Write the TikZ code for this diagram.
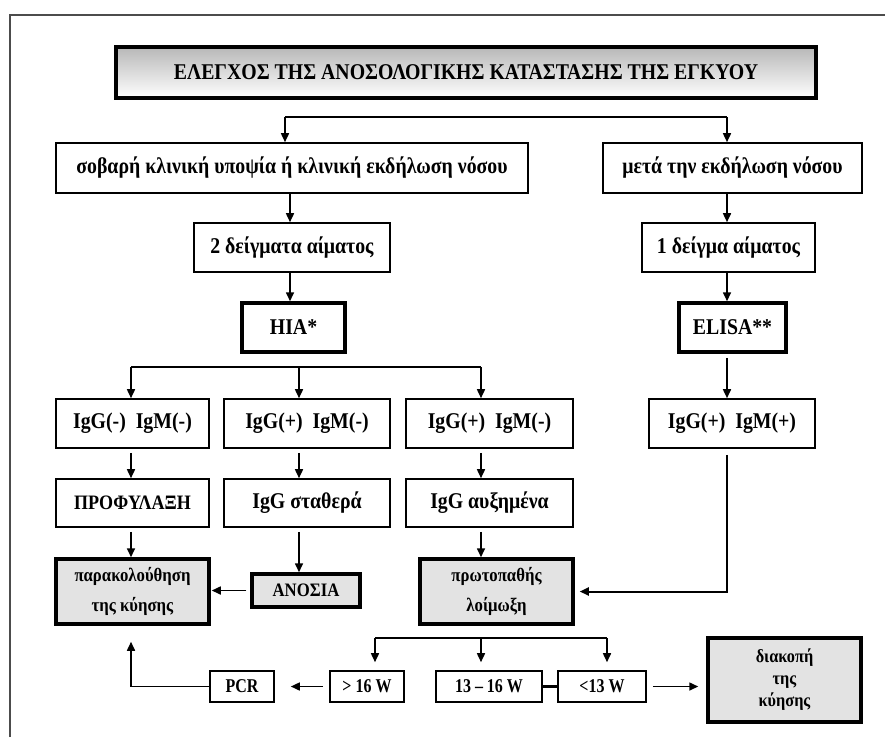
\documentclass[tikz,border=0pt]{standalone}
\usepackage{fontspec}
\setmainfont{Liberation Serif}
\newfontfamily\nf[FakeStretch=0.88]{Liberation Serif}
\newfontfamily\nfb[FakeStretch=0.82]{Liberation Serif}
\usetikzlibrary{arrows.meta}
\begin{document}
\begin{tikzpicture}[x=1pt,y=-1pt,
  box/.style={draw, line width=1.6pt, inner sep=0pt, align=center, font=\nf\bfseries\fontsize{22.5}{26}\selectfont},
  thickbox/.style={box, line width=3.5pt},
  graybox/.style={thickbox, fill=black!11},
  fT/.style={font=\nf\bfseries\fontsize{22.5}{26}\selectfont},
  fA/.style={font=\nf\bfseries\fontsize{20.5}{24}\selectfont},
  fB/.style={font=\nf\bfseries\fontsize{19}{30}\selectfont},
  fC/.style={font=\nfb\bfseries\fontsize{19.5}{22}\selectfont},
  arr/.style={line width=1.6pt, -{Triangle[length=9pt,width=8pt]}},
  ln/.style={line width=1.6pt},
  bar/.style={line width=2.6pt},
]
\useasboundingbox (0,0) rectangle (885,737);
% outer frame
\draw[line width=2pt, black!70] (10,737) -- (10,15) -- (885,15);

% column coordinates
\coordinate (cL) at (290,0);
\coordinate (cR) at (727,0);
\coordinate (k1) at (131,0);
\coordinate (k2) at (299,0);
\coordinate (k3) at (481,0);

% nodes
\node[thickbox, fT, line width=4pt, top color=black!28, bottom color=white, minimum width=700pt, minimum height=51pt] (title) at (466,72.5)
  {ΕΛΕΓΧΟΣ ΤΗΣ ΑΝΟΣΟΛΟΓΙΚΗΣ ΚΑΤΑΣΤΑΣΗΣ ΤΗΣ ΕΓΚΥΟΥ};
\node[box, minimum width=472pt, minimum height=50pt] (sob) at (292,168) {σοβαρή κλινική υποψία ή κλινική εκδήλωση νόσου};
\node[box, minimum width=259pt, minimum height=50pt] (meta) at (732.5,168) {μετά την εκδήλωση νόσου};
\node[box, minimum width=196pt, minimum height=49pt] (d2) at (292,247.5) {2 δείγματα αίματος};
\node[box, minimum width=173pt, minimum height=49pt] (d1) at (728.5,247.5) {1 δείγμα αίματος};
\node[thickbox, minimum width=103pt, minimum height=49pt] (hia) at (293.5,327.5) {HIA*};
\node[thickbox, minimum width=107pt, minimum height=49pt] (elisa) at (732.5,327.5) {ELISA**};

\node[box, minimum width=153pt, minimum height=49pt] (ig1) at (132.5,423.5) {IgG(-)\ \ IgM(-)};
\node[box, minimum width=166pt, minimum height=49pt] (ig2) at (307,423.5) {IgG(+)\ \ IgM(-)};
\node[box, minimum width=167pt, minimum height=49pt] (ig3) at (489.5,423.5) {IgG(+)\ \ IgM(-)};
\node[box, minimum width=166pt, minimum height=49pt] (ig4) at (732,423.5) {IgG(+)\ \ IgM(+)};

\node[box, fA, minimum width=153pt, minimum height=48pt] (r1) at (132.5,503) {ΠΡΟΦΥΛΑΞΗ};
\node[box, minimum width=166pt, minimum height=48pt] (r2) at (307,503) {IgG σταθερά};
\node[box, minimum width=167pt, minimum height=48pt] (r3) at (489.5,503) {IgG αυξημένα};

\node[graybox, fB, minimum width=153pt, minimum height=65pt] (parak) at (132.5,591.5) {παρακολούθηση\\της κύησης};
\node[graybox, fB, minimum width=108pt, minimum height=33pt] (anosia) at (306,590.5) {ΑΝΟΣΙΑ};
\node[graybox, fB, minimum width=153pt, minimum height=65pt] (prot) at (496.5,591.5) {πρωτοπαθής\\λοίμωξη};

\node[box, fC, minimum width=64pt, minimum height=31pt] (pcr) at (242,686.5) {PCR};
\node[box, fC, minimum width=74pt, minimum height=31pt] (g16) at (367,686.5) {> 16 W};
\node[box, fC, minimum width=106pt, minimum height=31pt] (w1316) at (489,686.5) {13 – 16 W};
\node[box, fC, minimum width=88pt, minimum height=31pt] (l13) at (602,686.5) {<13 W};
\node[graybox, font=\nf\bfseries\fontsize{18.5}{22}\selectfont, minimum width=153pt, minimum height=84pt] (diak) at (784.5,680) {διακοπή\\της\\κύησης};

% top split
\coordinate (t1) at (285,117);
\coordinate (t2) at (727,117);
\draw[bar] (t1) -- (t2);
\draw[arr] (t1) -- (t1 |- sob.north);
\draw[arr] (t2) -- (t2 |- meta.north);

% left column
\draw[arr] (cL |- sob.south) -- (cL |- d2.north);
\draw[arr] (cL |- d2.south) -- (cL |- hia.north);

% right column
\draw[arr] (cR |- meta.south) -- (cR |- d1.north);
\draw[arr] (cR |- d1.south) -- (cR |- elisa.north);
\draw[arr, shorten <=4pt] (cR |- elisa.south) -- (cR |- ig4.north);

% HIA split
\coordinate (h1) at (131,367);
\coordinate (h3) at (481,367);
\draw[bar] (h1) -- (h3);
\draw[arr] (h1) -- (k1 |- ig1.north);
\draw[arr] (k2 |- h1) -- (k2 |- ig2.north);
\draw[arr] (h3) -- (k3 |- ig3.north);

% rows
\draw[arr, shorten <=4pt] (k1 |- ig1.south) -- (k1 |- r1.north);
\draw[arr, shorten <=4pt] (k2 |- ig2.south) -- (k2 |- r2.north);
\draw[arr, shorten <=4pt] (k3 |- ig3.south) -- (k3 |- r3.north);
\draw[arr, shorten <=4pt] (k1 |- r1.south) -- (k1 |- parak.north);
\draw[arr, shorten <=4pt] (k2 |- r2.south) -- (k2 |- anosia.north);
\draw[arr, shorten <=4pt] (k3 |- r3.south) -- (k3 |- prot.north);

\draw[arr, shorten <=4pt, shorten >=1pt] (anosia.west) -- (parak.east |- anosia.west);
\draw[arr, line width=2pt, shorten <=6pt, shorten >=5pt] (cR |- ig4.south) -- (cR |- prot.east) -- (prot.east);

% lower split
\coordinate (p1) at (375,638);
\coordinate (p3) at (607,638);
\draw[line width=2pt] (p1) -- (p3);
\draw[arr, shorten >=8pt] (p1) -- (p1 |- g16.north);
\draw[arr, shorten >=8pt] (k3 |- p1) -- (k3 |- w1316.north);
\draw[arr, shorten >=8pt] (p3) -- (p3 |- l13.north);

\draw[bar] (w1316.east) -- (l13.west);
\draw[arr, shorten <=6pt, shorten >=16pt] (g16.west) -- (pcr.east);
\draw[arr, shorten >=16pt] (pcr.west) -- (k1 |- pcr.west) -- (k1 |- parak.south);
\draw[arr, shorten <=6pt, shorten >=8pt] (l13.east) -- (diak.west |- l13.east);
\end{tikzpicture}
\end{document}
